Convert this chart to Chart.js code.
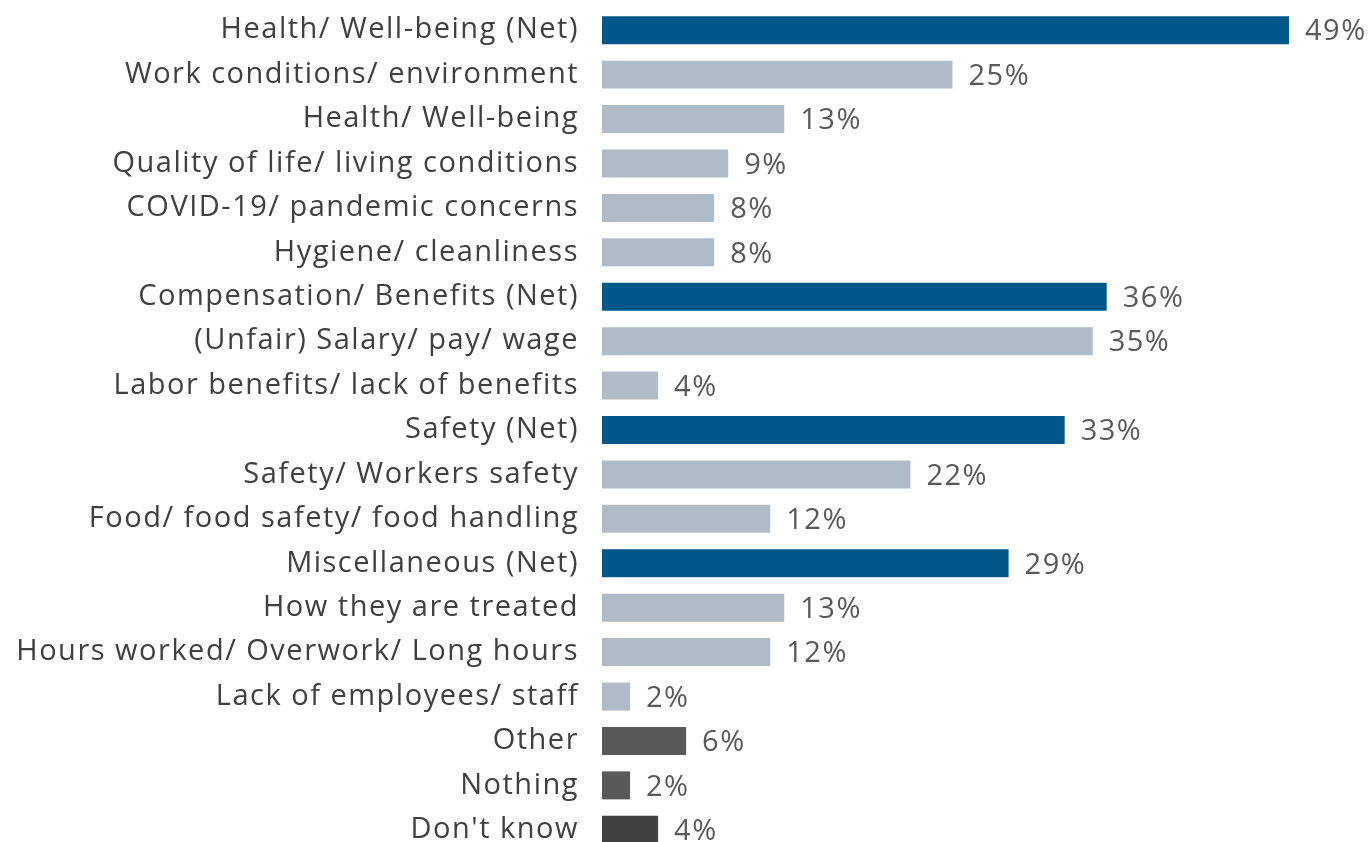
<!DOCTYPE html>
<html>
<head>
<meta charset="utf-8">
<script src="https://cdn.jsdelivr.net/npm/chart.js@4"></script>
<style>
  html, body { margin: 0; padding: 0; overflow: hidden; background: #fff; }
  #wrap { width: 1371px; height: 852px; }
</style>
</head>
<body>
<div id="wrap"><canvas id="chart"></canvas></div>
<script>
const labels = [
  "Health/ Well-being (Net)",
  "Work conditions/ environment",
  "Health/ Well-being",
  "Quality of life/ living conditions",
  "COVID-19/ pandemic concerns",
  "Hygiene/ cleanliness",
  "Compensation/ Benefits (Net)",
  "(Unfair) Salary/ pay/ wage",
  "Labor benefits/ lack of benefits",
  "Safety (Net)",
  "Safety/ Workers safety",
  "Food/ food safety/ food handling",
  "Miscellaneous (Net)",
  "How they are treated",
  "Hours worked/ Overwork/ Long hours",
  "Lack of employees/ staff",
  "Other",
  "Nothing",
  "Don't know"
];
const values = [49, 25, 13, 9, 8, 8, 36, 35, 4, 33, 22, 12, 29, 13, 12, 2, 6, 2, 4];
// bar type per row: net, sub, other, dk
const kinds = ["net","sub","sub","sub","sub","sub","net","sub","sub","net","sub","sub","net","sub","sub","sub","other","other","dk"];
const colors = { net: "#00578A", sub: "#AFBCC7", other: "#595959", dk: "#404040" };

const FONT = "'Open Sans', 'DejaVu Sans', sans-serif";

// the source text is a bit wider than Open Sans, so space it out a little
const spacing = {
  id: "spacing",
  beforeDraw(chart) { chart.ctx.letterSpacing = "1.5px"; }
};

const valueLabels = {
  id: "valueLabels",
  afterDatasetsDraw(chart) {
    const ctx = chart.ctx;
    const meta = chart.getDatasetMeta(0);
    ctx.save();
    ctx.letterSpacing = "1.5px";
    ctx.font = "29px " + FONT;
    ctx.fillStyle = "#595959";
    ctx.textAlign = "left";
    ctx.textBaseline = "middle";
    meta.data.forEach((bar, i) => {
      ctx.fillText(values[i] + "%", bar.x + 16, bar.y + 2);
    });
    ctx.restore();
  }
};

new Chart(document.getElementById("chart"), {
  type: "bar",
  data: {
    labels: labels,
    datasets: [{
      data: values,
      backgroundColor: kinds.map(k => colors[k]),
      barPercentage: 0.63,
      categoryPercentage: 1.0
    }]
  },
  options: {
    indexAxis: "y",
    responsive: true,
    maintainAspectRatio: false,
    animation: false,
    layout: { padding: { top: 8, left: 0, right: 0, bottom: 0 } },
    plugins: {
      legend: { display: false },
      tooltip: { enabled: false }
    },
    scales: {
      x: {
        display: false,
        min: 0,
        max: 54.85
      },
      y: {
        grid: { display: false, drawTicks: false },
        border: { display: false },
        ticks: {
          color: "#404040",
          padding: 23,
          autoSkip: false,
          font: { family: FONT, size: 29 }
        },
        afterFit(scale) {
          scale.width = 602;
          scale.paddingTop = 0;
          scale.paddingBottom = 0;
        }
      }
    }
  },
  plugins: [spacing, valueLabels]
});
</script>
</body>
</html>
